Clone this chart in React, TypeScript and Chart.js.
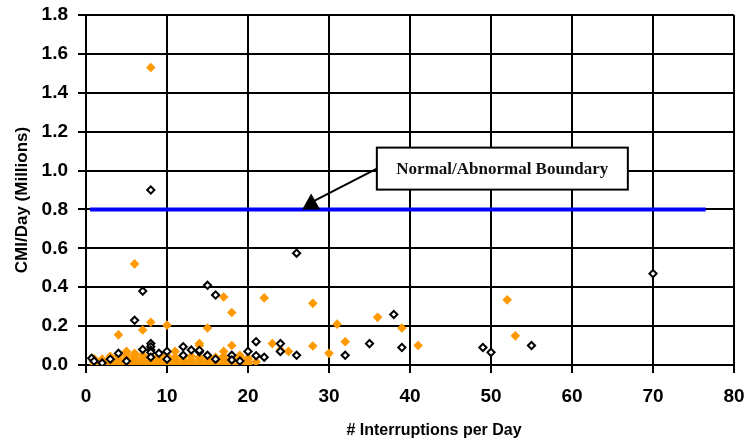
import React, { useEffect, useRef } from "react";
import { Chart, registerables } from "chart.js";

Chart.register(...registerables);

// ---- data ----
const xMin = 0;
const xMax = 80;
const xStep = 10;
const yMin = 0;
const yMax = 1.8;
const yStep = 0.2;

const xTitle = "# Interruptions per Day";
const yTitle = "CMI/Day (Millions)";
const boundaryLabel = "Normal/Abnormal Boundary";

const boundaryX = [0.5, 76.5];
const boundaryY = [0.8, 0.8];

// annotation anchors in data units
const labelAt = { x: 51.4, y: 1.01 };
const arrowTipAt = { x: 27.8, y: 0.8 };

// hollow black diamonds
const blackX = [0.7, 1, 2, 3, 4, 5, 6, 7, 7, 8, 8, 8, 8, 8, 8, 9, 10, 10, 12, 12, 13, 14, 14, 15, 15, 16, 16, 18, 18, 19, 20, 21, 21, 22, 24, 24, 26, 26, 32, 35, 38, 39, 49, 50, 55, 70];
const blackY = [0.035, 0.02, 0.01, 0.03, 0.06, 0.02, 0.23, 0.38, 0.08, 0.9, 0.11, 0.094, 0.077, 0.065, 0.04, 0.06, 0.07, 0.03, 0.094, 0.05, 0.077, 0.068, 0.075, 0.41, 0.05, 0.36, 0.03, 0.05, 0.026, 0.02, 0.07, 0.12, 0.048, 0.04, 0.11, 0.07, 0.575, 0.05, 0.05, 0.11, 0.26, 0.09, 0.09, 0.065, 0.1, 0.47];

// filled orange diamonds (scattered)
const orangeX = [4, 5, 6, 6, 7, 8, 8, 10, 11, 14, 14, 15, 16, 17, 17, 18, 18, 19, 20, 21, 22, 23, 24, 25, 28, 28, 30, 31, 32, 36, 39, 41, 52, 53];
const orangeY = [0.155, 0.07, 0.52, 0.06, 0.18, 1.53, 0.22, 0.205, 0.07, 0.11, 0.1, 0.19, 0.04, 0.07, 0.35, 0.27, 0.1, 0.05, 0.036, 0.017, 0.345, 0.11, 0.077, 0.07, 0.317, 0.098, 0.06, 0.21, 0.12, 0.245, 0.19, 0.1, 0.335, 0.15];

// dense orange stacks near the axis, one column per day count
const stackX = [1, 2, 3, 4, 5, 6, 7, 8, 9, 10, 11, 12, 13, 14, 15, 16, 17, 18, 19, 20];
const stackY = [
  [0.003, 0.012, 0.022, 0.032],
  [0.004, 0.013, 0.022, 0.03],
  [0.003, 0.012, 0.022, 0.033, 0.045],
  [0.002, 0.011, 0.021, 0.032, 0.048],
  [0.003, 0.012, 0.023, 0.035, 0.05],
  [0.004, 0.013, 0.024, 0.036, 0.047],
  [0.003, 0.012, 0.023, 0.035, 0.052],
  [0.002, 0.011, 0.021, 0.033, 0.045],
  [0.003, 0.012, 0.022, 0.034, 0.046],
  [0.004, 0.013, 0.024, 0.036, 0.05],
  [0.003, 0.014, 0.026, 0.04],
  [0.004, 0.015, 0.027, 0.04],
  [0.003, 0.014, 0.026, 0.045],
  [0.002, 0.013, 0.025, 0.04],
  [0.004, 0.015, 0.028, 0.042],
  [0.005, 0.02, 0.035],
  [0.004, 0.016, 0.03, 0.045],
  [0.006, 0.02, 0.035],
  [0.005, 0.02, 0.04],
  [0.004, 0.015, 0.03],
];

const ORANGE = "#FF9900";
const SANS = "'Liberation Sans', Arial, Helvetica, sans-serif";
const SERIF = "'Liberation Serif', 'Times New Roman', serif";

const W = 747;
const H = 443;

const overlay = {
  id: "overlay",
  afterDraw(chart: any) {
    const { ctx, scales } = chart;
    const xs = scales.x;
    const ys = scales.y;
    ctx.save();
    // axis titles
    ctx.fillStyle = "#000";
    ctx.font = `bold 16px ${SANS}`;
    ctx.textAlign = "center";
    ctx.textBaseline = "middle";
    ctx.fillText(xTitle, 434, 431);
    ctx.translate(22, 200);
    ctx.rotate(-Math.PI / 2);
    ctx.font = `bold 17px ${SANS}`;
    ctx.fillText(yTitle, 0, 0);
    ctx.restore();

    // annotation
    ctx.save();
    const cx = xs.getPixelForValue(labelAt.x);
    const cy = ys.getPixelForValue(labelAt.y);
    const bw = 251;
    const bh = 42;
    const bx = cx - bw / 2;
    const by = cy - bh / 2;
    const tx = xs.getPixelForValue(arrowTipAt.x);
    const ty = ys.getPixelForValue(arrowTipAt.y);
    ctx.strokeStyle = "#000";
    ctx.lineWidth = 2;
    ctx.beginPath();
    ctx.moveTo(bx, cy);
    ctx.lineTo(tx + 2, ty - 8);
    ctx.stroke();
    ctx.fillStyle = "#000";
    ctx.beginPath();
    ctx.moveTo(tx - 9, ty);
    ctx.lineTo(tx + 9, ty);
    ctx.lineTo(tx, ty - 16);
    ctx.closePath();
    ctx.fill();
    ctx.fillStyle = "#fff";
    ctx.fillRect(bx, by, bw, bh);
    ctx.strokeRect(bx, by, bw, bh);
    ctx.fillStyle = "#111";
    ctx.font = `bold 17px ${SERIF}`;
    ctx.textAlign = "center";
    ctx.textBaseline = "middle";
    ctx.fillText(boundaryLabel, cx, cy + 1);
    ctx.restore();
  },
};

export default function App() {
  const ref = useRef<HTMLCanvasElement | null>(null);

  useEffect(() => {
    if (!ref.current) return;
    const blackPts = blackX.map((x, i) => ({ x, y: blackY[i] }));
    const orangePts = orangeX.map((x, i) => ({ x, y: orangeY[i] }));
    const stackPts: { x: number; y: number }[] = [];
    stackX.forEach((x, i) => stackY[i].forEach((y) => stackPts.push({ x, y })));
    const boundaryPts = boundaryX.map((x, i) => ({ x, y: boundaryY[i] }));

    const chart = new Chart(ref.current, {
      type: "scatter",
      data: {
        datasets: [
          {
            label: "black",
            data: blackPts,
            pointStyle: "rectRot",
            pointRadius: 3.6,
            borderWidth: 2,
            borderColor: "#000",
            backgroundColor: "#fff",
          },
          {
            label: "orange",
            data: [...stackPts, ...orangePts],
            pointStyle: "rectRot",
            pointRadius: 4.8,
            borderWidth: 0,
            borderColor: ORANGE,
            backgroundColor: ORANGE,
          },
          {
            label: "boundary",
            data: boundaryPts,
            showLine: true,
            pointRadius: 0,
            borderColor: "#0000FF",
            borderWidth: 4,
            backgroundColor: "#0000FF",
          },
        ],
      } as any,
      options: {
        animation: false,
        responsive: false,
        devicePixelRatio: 1,
        events: [],
        layout: { padding: { top: 15, right: 13, left: 0, bottom: 0 } },
        plugins: { legend: { display: false }, tooltip: { enabled: false } },
        scales: {
          x: {
            type: "linear",
            min: xMin,
            max: xMax,
            afterFit(scale: any) {
              scale.height = 78;
              scale.paddingLeft = 0;
              scale.paddingRight = 0;
            },
            ticks: {
              stepSize: xStep,
              color: "#000",
              padding: 12,
              font: { family: SANS, size: 19, weight: "bold" },
            },
            grid: { color: "#000", lineWidth: 2, tickLength: 8 },
            border: { color: "#000", width: 2 },
          },
          y: {
            type: "linear",
            min: yMin,
            max: yMax,
            afterFit(scale: any) {
              scale.width = 86;
              scale.paddingTop = 0;
              scale.paddingBottom = 0;
            },
            ticks: {
              stepSize: yStep,
              color: "#000",
              padding: 10,
              font: { family: SANS, size: 19, weight: "bold" },
              callback: (v: any) => Number(v).toFixed(1),
            },
            grid: { color: "#000", lineWidth: 2, tickLength: 8 },
            border: { color: "#000", width: 2 },
          },
        },
      } as any,
      plugins: [overlay],
    });
    return () => chart.destroy();
  }, []);

  return (
    <div style={{ position: "fixed", left: 0, top: 0, width: W, height: H, background: "#fff" }}>
      <canvas ref={ref} width={W} height={H} style={{ display: "block" }} />
    </div>
  );
}
